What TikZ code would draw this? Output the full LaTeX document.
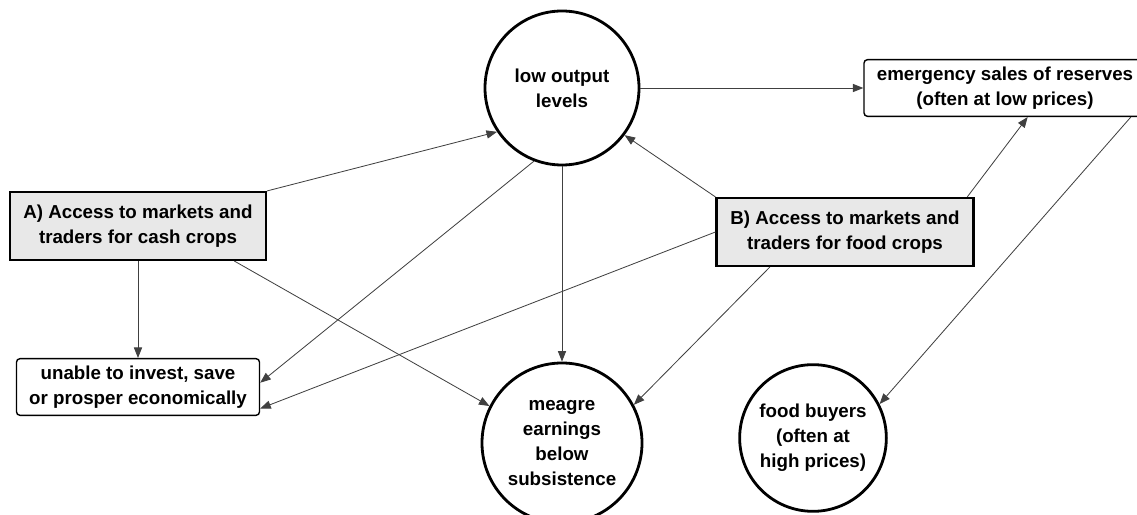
\documentclass[tikz,border=0pt]{standalone}
\usepackage{fontspec}
\setmainfont{Liberation Sans}
\usepackage{tikz}
\usetikzlibrary{positioning,arrows.meta}

\begin{document}
\begin{tikzpicture}[x=0.03cm, y=-0.03cm,
  every node/.style={font=\bfseries\fontsize{16}{21.5}\selectfont, align=center, inner sep=1pt},
  hub/.style={circle, draw, line width=2.4pt, fill=white},
  access/.style={rectangle, draw, line width=1.8pt, fill=gray!18, minimum height=2.04cm},
  result/.style={rectangle, draw, rounded corners=3pt, line width=1.2pt, fill=white, minimum height=1.7cm},
  link/.style={draw=black!75, line width=0.7pt, -{Triangle[length=9pt,width=7pt]}}]
\clip (0,0) rectangle (1137,515);
\fill[white] (0,0) rectangle (1137,515);

% Circles
\node[hub, minimum size=4.62cm] (low) at (562, 88) {low output\\levels};
\node[hub, minimum size=4.8cm] (meagre) at (562, 443) {meagre\\earnings\\below\\subsistence};
\node[hub, minimum size=4.4cm] (buyers) at (813, 438) {food buyers\\(often at\\high prices)};

% Boxes
\node[access, minimum width=7.68cm] (cash) at (138, 226) {A) Access to markets and\\traders for cash crops};
\node[access, minimum width=7.71cm] (food) at (845, 232) {B) Access to markets and\\traders for food crops};
\node[result, minimum width=7.29cm] (unable) at (138, 387) {unable to invest, save\\or prosper economically};
\node[result, minimum width=8.46cm] (sales) at (1005, 88) {emergency sales of reserves\\(often at low prices)};

% Arrows from A
\draw[link] (cash.north east) -- (low.214);
\draw[link] (cash.south) -- (unable.north);
\draw[link] (cash.-20) -- (meagre.153);

% Arrows from low output
\draw[link] (low.249) -- (unable.2);
\draw[link] (low.south) -- (meagre.north);
\draw[link] (low.east) -- (sales.west);

% Arrows from B
\draw[link] (food.north west) -- (low.323);
\draw[link] (food.west) -- (unable.-10);
\draw[link] (food.205) -- (meagre.28);
\draw[link] (food.16) -- (sales.-52);

% Sales to buyers
\draw[link] (sales.-13) -- (buyers.27);
\end{tikzpicture}
\end{document}
